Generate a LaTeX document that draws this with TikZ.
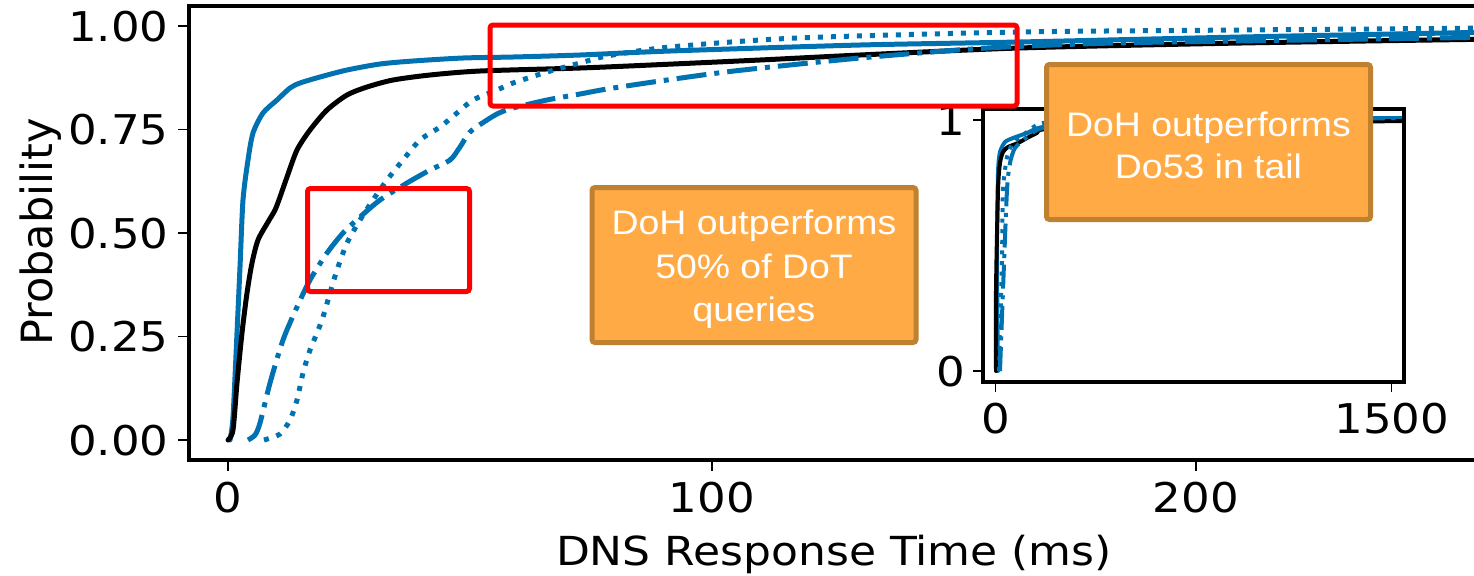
\documentclass[tikz,border=0pt]{standalone}
\usepackage{fontspec}
\newfontfamily\plotfont[FakeStretch=1.1]{DejaVu Sans}
\newfontfamily\plotfontupright{DejaVu Sans}
\newfontfamily\notefont[FakeStretch=1.1]{Liberation Sans}
\definecolor{mplblue}{HTML}{0072B2}
\definecolor{notefill}{HTML}{FFAA44}
\definecolor{noteedge}{HTML}{BF8030}
\definecolor{hlred}{HTML}{FF0000}
\begin{document}
\begin{tikzpicture}[x=0.5pt,y=-0.5pt,
  spine/.style={line width=1.75pt, line join=miter},
  insetspine/.style={line width=2pt, line join=miter},
  tickmark/.style={line width=0.7pt},
  ticklabel/.style={font=\plotfont\fontsize{20.5}{24}\selectfont, inner sep=0pt},
  axislabel/.style={font=\plotfont\fontsize{20}{24}\selectfont, inner sep=0pt},
  cdfblack/.style={line width=2.5pt, black, line join=round, line cap=round},
  cdfsolid/.style={line width=2.5pt, mplblue, line join=round, line cap=round},
  cdfdotted/.style={line width=2.5pt, mplblue, line cap=butt, dash pattern=on 2.5pt off 4pt},
  cdfdashdot/.style={line width=2.5pt, mplblue, line cap=butt, dash pattern=on 15pt off 4pt on 2.5pt off 4pt},
  thin/.style={line width=2pt},
  hlbox/.style={draw=hlred, line width=2.5pt, rounded corners=1.5pt},
  note/.style={draw=noteedge, fill=notefill, line width=2.5pt, rounded corners=1.5pt,
    text=white, align=center, inner sep=0pt, minimum width=162pt, minimum height=77.5pt},
]
\useasboundingbox (0,0) rectangle (1474,575);
\fill[white] (0,0) rectangle (1474,575);
\begin{scope}
\clip (0,0) rectangle (1474,575);

% ---------- main CDF curves ----------
\draw[cdfsolid] plot[smooth, tension=0.45] coordinates {
  (230,440) (233,417) (237,333) (240,267) (243,200) (248,160) (253,133) (263,113)
  (277,100) (290,88) (300,83) (320,77) (347,70) (380,64) (413,61) (463,58) (513,57)
  (580,55) (670,51) (860,45) (1019,42) (1241,37) (1500,32)};
\draw[cdfblack] plot[smooth, tension=0.45] coordinates {
  (228,440) (233,430) (237,383) (242,333) (247,293) (252,263) (258,240) (268,222)
  (275,210) (280,197) (287,177) (297,150) (310,130) (327,110) (347,95) (367,87)
  (393,80) (430,75) (480,71) (580,68) (651,65) (760,60) (860,55) (1019,48) (1241,43) (1500,39)};
\draw[cdfdotted] plot[smooth, tension=0.45] coordinates {
  (264,440) (280,434) (290,420) (297,400) (303,373) (310,350) (317,333) (323,317)
  (330,293) (337,270) (347,243) (360,220) (373,200) (387,180) (403,160) (420,140)
  (440,127) (457,113) (473,100) (497,90) (513,83) (547,72) (580,63) (607,56) (670,47)
  (797,38) (1019,32) (1241,30) (1500,28)};
\draw[cdfdashdot] plot[smooth, tension=0.45] coordinates {
  (248,440) (255,435) (260,423) (270,383) (283,340) (297,307) (310,280) (327,253)
  (343,233) (360,217) (380,200) (407,183) (430,170) (450,160) (460,147) (470,132)
  (487,120) (499,113) (513,108) (547,100) (580,94) (607,89) (660,81) (734,71) (860,58)
  (987,48) (1114,43) (1304,40) (1500,37)};

% ---------- main axes ----------
\draw[spine] (1500,6) -- (189,6) -- (189,460) -- (1500,460);
\foreach \yy/\lab/\nm in {440/0.00/ya, 336.5/0.25/yb, 233/0.50/yc, 129.5/0.75/yd, 26/1.00/ye} {
  \draw[tickmark] (178,\yy) -- (188,\yy);
  \node[ticklabel, anchor=base east] (\nm) at (169,\yy+15) {\lab};
}
\foreach \xx/\lab/\nm in {228/0/xa, 712/100/xb, 1196/200/xc} {
  \draw[tickmark] (\xx,461) -- (\xx,471);
  \node[ticklabel, anchor=base] (\nm) at (\xx,512) {\lab};
}
\node[axislabel, anchor=base] (xlabel) at (834,565) {DNS Response Time (ms)};
\node[font=\plotfontupright\fontsize{21.5}{24}\selectfont, inner sep=0pt,
      rotate=90, anchor=base] (ylabel) at (52,232) {Probability};

% ---------- inset: full range ----------
\fill[white] (983,109) rectangle (1404,382);
\begin{scope}
\clip (983,109) rectangle (1404,382);
\draw[cdfsolid, thin] plot[smooth, tension=0.4] coordinates {
  (998,371) (997,257) (998,173) (1000,152) (1005,142) (1013,138) (1027,133)
  (1043,127) (1100,123) (1250,119) (1404,118)};
\draw[cdfblack, thin] plot[smooth, tension=0.4] coordinates {
  (996,371) (996,290) (998,190) (1000,163) (1003,152) (1008,147) (1018,143)
  (1027,138) (1037,133) (1047,129) (1150,125) (1250,123) (1404,121)};
\draw[cdfdotted, thin, dash pattern=on 2pt off 3.3pt] plot[smooth, tension=0.4] coordinates {
  (999,371) (1002,257) (1003,190) (1007,157) (1013,143) (1027,132) (1043,123)
  (1100,120) (1404,118)};
\draw[cdfdashdot, thin, dash pattern=on 12pt off 3.3pt on 2pt off 3.3pt] plot[smooth, tension=0.4] coordinates {
  (1000,371) (1003,290) (1007,190) (1010,163) (1015,148) (1027,137) (1043,128)
  (1100,123) (1404,118)};
\end{scope}
\draw[insetspine] (983,109) rectangle (1404,382);
\foreach \yy/\lab/\nm in {371/0/iya, 120/1/iyb} {
  \draw[tickmark] (973,\yy) -- (982,\yy);
  \node[ticklabel, anchor=base east] (\nm) at (966,\yy+15) {\lab};
}
\foreach \xx/\lab/\nm in {995.7/0/ixa, 1391.7/1500/ixb} {
  \draw[tickmark] (\xx,383) -- (\xx,392);
  \node[ticklabel, anchor=base] (\nm) at (\xx,433) {\lab};
}

% ---------- highlighted regions ----------
\draw[hlbox] (307.5,188.5) rectangle (469.5,291.5);
\draw[hlbox] (490,25) rectangle (1017,106);

% ---------- annotations ----------
\node[note, font=\notefont\fontsize{17}{21.75}\selectfont] (noteDoT) at (754,265)
  {\rule{0pt}{17pt}DoH outperforms\\50\% of DoT\\queries};
\node[note, font=\notefont\fontsize{17}{21}\selectfont] (noteTail) at (1208.5,142)
  {\rule{0pt}{15.5pt}DoH outperforms\\Do53 in tail};
\end{scope}
\end{tikzpicture}
\end{document}
